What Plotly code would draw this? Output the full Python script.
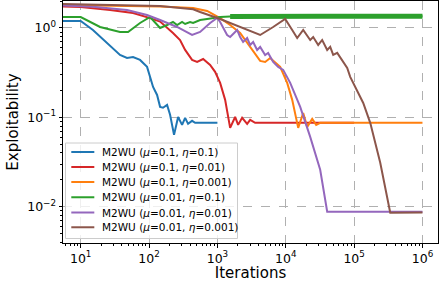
import plotly.graph_objects as go

# ---------------- data ----------------
blue_x = [5.5, 10, 15.1, 24.3, 37.6, 47.6, 58.3, 73.8, 93.5, 114.5, 131, 145, 160, 183.5,
          203, 232, 266, 304, 337, 372, 426, 472, 1000]
blue_y = [1.197, 1.197, 0.950, 0.680, 0.499, 0.462, 0.474, 0.439, 0.367, 0.219, 0.178, 0.131,
          0.128, 0.138, 0.107, 0.0637, 0.101, 0.0824, 0.0987, 0.0846, 0.0914, 0.0868, 0.0868]

red_x = [5.5, 10, 26.9, 58.3, 103.5, 145, 224, 284, 337, 426, 505, 618, 782, 925, 1096, 1297,
         1535, 1816, 2010, 2299, 2722, 3012, 3565, 100000]
red_y = [1.74, 1.72, 1.59, 1.47, 1.29, 1.18, 0.879, 0.734, 0.568, 0.439, 0.417, 0.450, 0.386,
         0.323, 0.243, 0.157, 0.0763, 0.101, 0.0824, 0.0987, 0.0846, 0.0938, 0.0868, 0.0868]

orange_x = [5.5, 26.9, 145, 441, 707, 1096, 1535, 2149, 2722, 3333, 4220, 4994, 5916, 8283,
            10490, 12420, 13730, 15200, 17990, 20580, 24360, 27860, 31880, 1000000]
orange_y = [1.81, 1.78, 1.74, 1.67, 1.55, 1.29, 1.08, 0.879, 0.680, 0.539, 0.428, 0.417, 0.462,
            0.367, 0.243, 0.157, 0.112, 0.0763, 0.112, 0.0783, 0.0962, 0.0824, 0.0868, 0.0868]

green_x = [5.5, 10, 19.2, 37.6, 49.3, 73.8, 103.5, 122.5, 145, 183.5, 224, 257, 304, 337, 398,
           441, 558, 707, 865, 1096, 1535, 2149, 31880, 1000000]
green_y = [1.327, 1.327, 1.026, 0.902, 0.902, 1.137, 1.327, 1.167, 1.0, 1.08, 1.167, 1.08, 1.167,
           1.109, 1.167, 1.137, 1.228, 1.261, 1.294, 1.327, 1.345, 1.35, 1.35, 1.35]

purple_x = [5.5, 15.1, 47.6, 93.5, 145, 257, 426, 558, 782, 990, 1096, 1387, 1535, 1942, 2149,
            2377, 2722, 3012, 3333, 3813, 4220, 4994, 5524, 6541, 7744, 9164, 11610, 16260,
            22770, 31880, 40370, 1000000]
purple_y = [1.78, 1.73, 1.59, 1.397, 1.228, 1.026, 0.835, 0.902, 1.137, 1.294, 1.167, 0.835,
            0.793, 0.950, 0.793, 0.698, 0.773, 0.646, 0.698, 0.568, 0.614, 0.499, 0.526, 0.417,
            0.367, 0.340, 0.243, 0.131, 0.0605, 0.0259, 0.00879, 0.0088]

brown_x = [5.5, 47.6, 145, 441, 558, 1096, 2149, 4220, 6541, 9800, 12420, 14690, 17990, 22770,
           25190, 29800, 34100, 40370, 44670, 49420, 56580, 66940, 79220, 87650, 135900, 172100,
           241000, 337500, 1000000]
brown_y = [1.854, 1.807, 1.762, 1.62, 1.509, 1.261, 1.026, 0.835, 1.026, 1.261, 0.950, 0.773,
           0.950, 0.734, 0.793, 0.646, 0.734, 0.568, 0.614, 0.499, 0.526, 0.439, 0.357, 0.284,
           0.145, 0.0868, 0.0310, 0.00857, 0.0086]

labels = [
    "M2WU (<i>μ</i>=0.1, <i>η</i>=0.1)",
    "M2WU (<i>μ</i>=0.1, <i>η</i>=0.01)",
    "M2WU (<i>μ</i>=0.1, <i>η</i>=0.001)",
    "M2WU (<i>μ</i>=0.01, <i>η</i>=0.1)",
    "M2WU (<i>μ</i>=0.01, <i>η</i>=0.01)",
    "M2WU (<i>μ</i>=0.01, <i>η</i>=0.001)",
]
colors = ["#1f77b4", "#d62728", "#ff7f0e", "#2ca02c", "#9467bd", "#8c564b"]

x_tickvals = [10, 100, 1000, 10000, 100000, 1000000]
x_ticktext = ["10<sup>1</sup>", "10<sup>2</sup>", "10<sup>3</sup>", "10<sup>4</sup>",
              "10<sup>5</sup>", "10<sup>6</sup>"]
y_tickvals = [0.01, 0.1, 1]
y_ticktext = ["10<sup>−2</sup>", "10<sup>−1</sup>", "10<sup>0</sup>"]

# ---------------- figure ----------------
fig = go.Figure()
series = [(blue_x, blue_y), (red_x, red_y), (orange_x, orange_y),
          (green_x, green_y), (purple_x, purple_y), (brown_x, brown_y)]
for i, ((xs, ys), lab, col) in enumerate(zip(series, labels, colors)):
    fig.add_trace(go.Scatter(x=xs, y=ys, mode="lines", name=lab, showlegend=False,
                             line=dict(color=col, width=2)))
    if i == 3:
        k = next(j for j, v in enumerate(green_x) if v >= 1535)
        fig.add_trace(go.Scatter(x=green_x[k:], y=green_y[k:], mode="lines",
                                 showlegend=False, hoverinfo="skip",
                                 line=dict(color=col, width=5)))

# ---------------- legend (matplotlib-style box, drawn in paper coords) ----------------
fig.add_shape(type="rect", xref="paper", yref="paper", layer="above",
              x0=0.0067, x1=0.4653, y0=0.0186, y1=0.4132,
              line=dict(color="#cccccc", width=1), fillcolor="rgba(255,255,255,0.8)")
row_y = [0.376, 0.314, 0.252, 0.189, 0.126, 0.065]
for lab, col, ry in zip(labels, colors, row_y):
    fig.add_shape(type="line", xref="paper", yref="paper", layer="above",
                  x0=0.0221, x1=0.0835, y0=ry, y1=ry, line=dict(color=col, width=2))
    fig.add_annotation(xref="paper", yref="paper", x=0.0995, y=ry, text=lab,
                       showarrow=False, xanchor="left", yanchor="middle",
                       font=dict(size=10.5, color="black", family="DejaVu Sans"))

minor_x = [m * 10 ** e for e in range(0, 7) for m in range(2, 10)]
minor_y = [m * 10 ** e for e in range(-3, 1) for m in range(2, 10)]

axis_common = dict(
    type="log", showline=True, linecolor="black", linewidth=1, mirror=True,
    ticks="outside", ticklen=3.5, tickwidth=1, tickcolor="black",
    showgrid=True, gridcolor="#b0b0b0", griddash="dash", gridwidth=0.8,
    zeroline=False, tickfont=dict(size=12.5, color="black"),
)

fig.update_xaxes(**axis_common, range=[0.741, 6.227], tickmode="array",
                 tickvals=x_tickvals, ticktext=x_ticktext,
                 minor=dict(tickmode="array", tickvals=minor_x, ticks="outside",
                            ticklen=2, tickcolor="black", showgrid=False),
                 title=dict(text="Iterations", font=dict(size=15, color="black"), standoff=2))
fig.update_yaxes(**axis_common, range=[-2.406, 0.302], tickmode="array",
                 tickvals=y_tickvals, ticktext=y_ticktext,
                 minor=dict(tickmode="array", tickvals=minor_y, ticks="outside",
                            ticklen=2, tickcolor="black", showgrid=False),
                 title=dict(text="Exploitability", font=dict(size=15, color="black"), standoff=4))

fig.update_layout(
    width=440, height=282,
    margin=dict(l=63, r=2, t=1, b=39),
    paper_bgcolor="white", plot_bgcolor="white",
    font=dict(family="DejaVu Sans", color="black"),
    showlegend=False,
)

fig.write_html("out.html", config={"displayModeBar": False},
               post_script="document.body.style.margin='0px';document.body.style.overflow='hidden';")
